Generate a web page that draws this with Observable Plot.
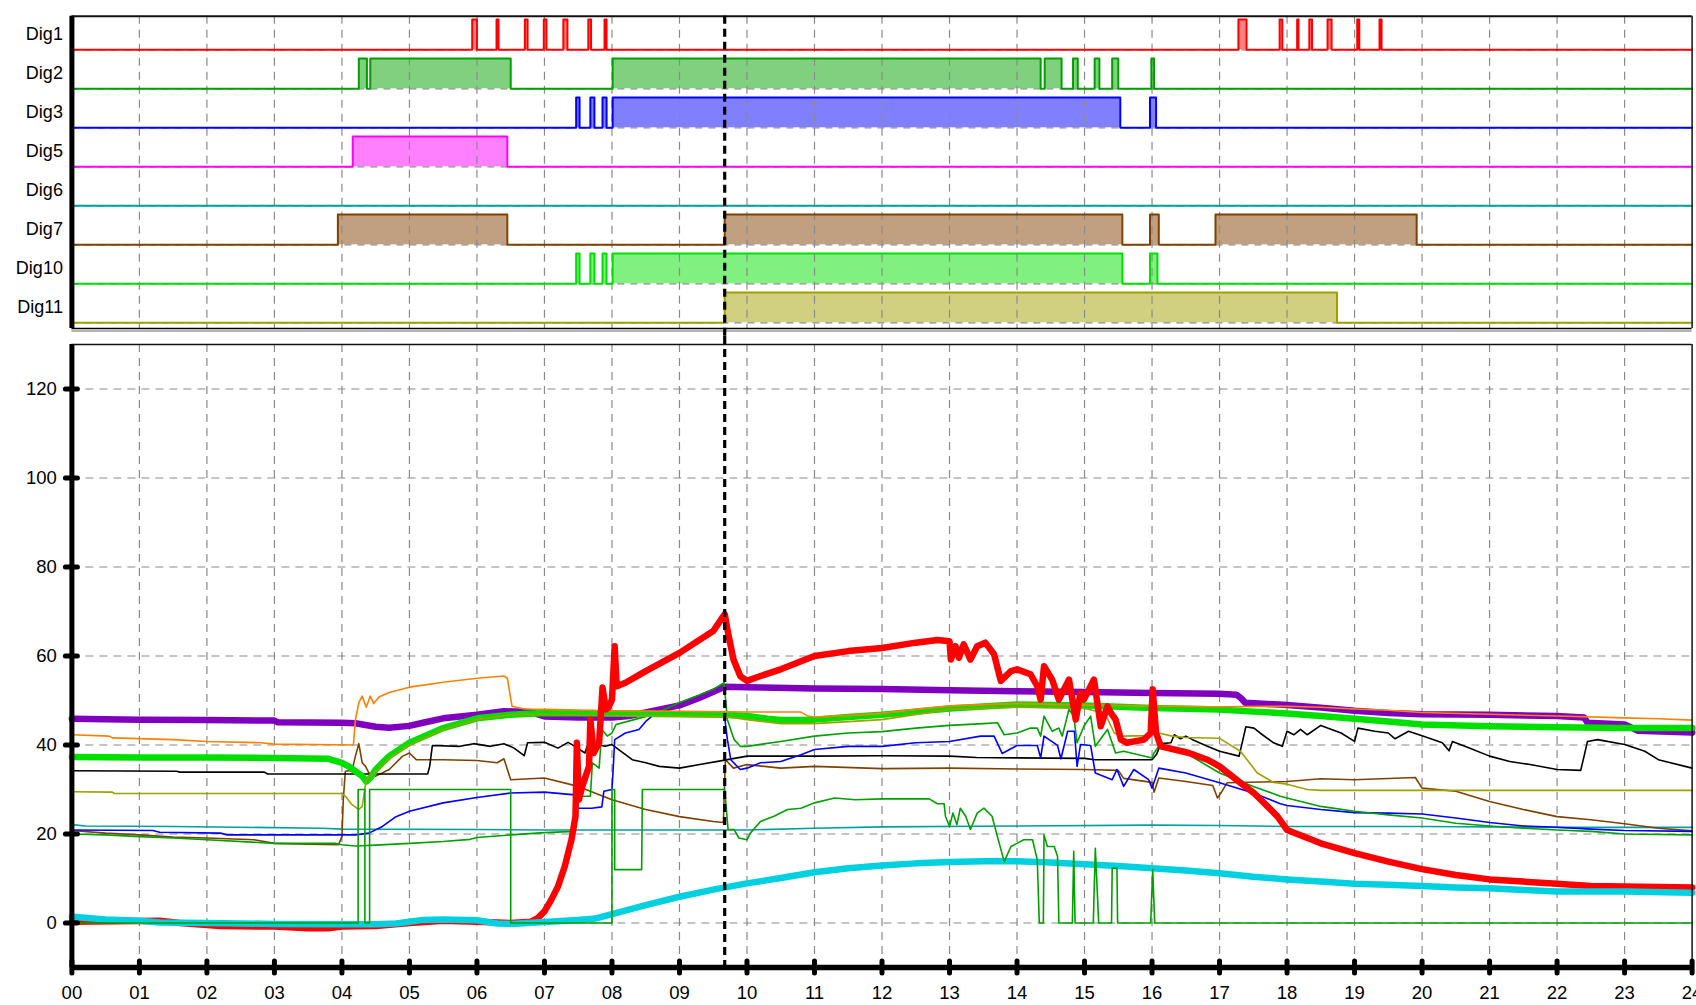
<!DOCTYPE html>
<html><head><meta charset="utf-8">
<script src="https://cdn.jsdelivr.net/npm/d3@7"></script>
<script src="https://cdn.jsdelivr.net/npm/@observablehq/plot@0.6"></script>
<style>
html,body{margin:0;padding:0;background:#fff;}
#chart{width:1696px;height:1005px;position:relative;overflow:hidden;}
#chart svg{display:block;}
</style></head><body><div id="chart"></div>
<script>
// ---------- tick labels ----------
const hourTicks = [0,1,2,3,4,5,6,7,8,9,10,11,12,13,14,15,16,17,18,19,20,21,22,23,24];
const hourLabels = ["00","01","02","03","04","05","06","07","08","09","10","11","12","13","14","15","16","17","18","19","20","21","22","23","24"];
const gridHours = [1,2,3,4,5,6,7,8,9,10,11,12,13,14,15,16,17,18,19,20,21,22,23];
const yTicks = [0,20,40,60,80,100,120];
const cursorHour = [9.67];

// ---------- digital channels: [on, off] in hours ----------
const digNames = ["Dig1","Dig2","Dig3","Dig5","Dig6","Dig7","Dig10","Dig11"];
const dig1 = [[5.93,6.0],[6.29,6.32],[6.71,6.75],[6.99,7.03],[7.28,7.34],[7.65,7.69],[7.89,7.92],[17.28,17.4],[17.89,17.93],[18.15,18.17],[18.33,18.37],[18.6,18.66],[19.04,19.07],[19.37,19.4]];
const dig2 = [[4.25,4.37],[4.42,6.5],[8.01,14.35],[14.41,14.66],[14.83,14.9],[15.15,15.22],[15.41,15.5],[15.99,16.03]];
const dig3 = [[7.47,7.52],[7.68,7.74],[7.86,7.92],[8.01,15.53],[15.97,16.06]];
const dig5 = [[4.16,6.45]];
const dig6 = [];
const dig7 = [[3.94,6.45],[9.67,15.56],[15.97,16.1],[16.94,19.92]];
const dig10 = [[7.47,7.52],[7.68,7.74],[7.86,7.92],[8.01,15.56],[15.97,16.08]];
const dig11 = [[9.67,18.74]];
const digData = [dig1,dig2,dig3,dig5,dig6,dig7,dig10,dig11];
const digLine = ["#ff0000","#00a000","#0000ff","#ff00ff","#00a0a0","#804000","#00e000","#a0a000"];
const digFill = ["#ff8080","#80d080","#8080ff","#ff80ff","#80d0d0","#c0a080","#80f080","#d0d080"];

// ---------- analog series: [hour, value] ----------
const purple = [[0,45.9],[1,45.7],[2,45.6],[3,45.5],[3.05,45.1],[4,45.0],[4.2,44.9],[4.35,44.5],[4.5,44.1],[4.7,43.9],[5.0,44.3],[5.2,45.0],[5.5,46.0],[6.0,46.8],[6.4,47.6],[6.8,47.4],[7.0,46.4],[7.5,46.2],[8.0,46.2],[8.25,46.5],[8.5,47.3],[9.0,48.9],[9.3,50.6],[9.67,53.1],[10,53.0],[11,52.7],[12,52.6],[13,52.3],[14,52.1],[15,51.9],[16,51.7],[17,51.5],[17.25,51.3],[17.32,50.5],[17.38,49.5],[18,49.0],[18.5,48.4],[19,47.7],[19.5,47.2],[20,46.9],[21,46.8],[22,46.5],[22.4,46.2],[22.45,45.0],[23.0,44.6],[23.2,43.2],[24,42.8]];
const orange = [[0,42.3],[0.55,42.0],[0.6,41.6],[1.5,41.2],[2.0,40.8],[2.8,40.5],[3.0,40.2],[4.17,40.0],[4.2,45.7],[4.25,49.5],[4.3,51.0],[4.36,48.5],[4.42,51.0],[4.47,49.3],[4.55,50.8],[4.7,51.8],[5.0,53.0],[5.5,54.1],[6.0,55.0],[6.4,55.5],[6.45,55.0],[6.52,48.7],[6.7,48.1],[7,48.0],[8,47.7],[9,47.6],[10,47.4],[10.8,47.4],[10.9,46.5],[11,46.3],[11.5,46.6],[12,47.1],[12.5,48.0],[13,48.8],[14,49.3],[15,49.0],[16,48.7],[17,48.6],[18,48.7],[18.5,48.5],[19,48.1],[19.5,47.8],[20,47.3],[21,46.9],[22,46.5],[23,46.1],[23.5,45.9],[24,45.6]];
const brightGreen = [[0,37.3],[1,37.2],[2,37.2],[3,37.1],[3.8,36.9],[4.0,36.0],[4.1,35.2],[4.2,34.1],[4.3,33.0],[4.36,31.8],[4.42,32.6],[4.5,34.5],[4.7,37.5],[5.0,40.5],[5.5,43.8],[6.0,46.0],[6.5,46.8],[7,47.2],[8,47.1],[9,46.9],[9.67,46.8],[10,46.5],[10.3,45.9],[10.5,45.6],[11,45.7],[11.5,46.3],[12,46.8],[13,48.2],[14,49.1],[15,48.9],[16,48.3],[17,48.0],[17.5,47.5],[18,47.1],[18.5,46.5],[19,45.9],[19.5,45.3],[20,44.6],[21,44.2],[22,44.0],[23,43.8],[24,43.8]];
const olive = [[0,29.5],[0.6,29.4],[0.63,29.1],[4.0,29.1],[4.05,28.5],[4.15,26.6],[4.25,25.5],[4.3,26.2],[4.36,32.2],[4.5,34.0],[4.7,37.0],[5.0,40.0],[5.5,43.5],[6.0,45.7],[6.5,46.8],[7,46.9],[8,46.6],[9,46.5],[9.67,46.4],[10,45.7],[10.5,44.8],[11,44.8],[12,45.7],[13,48.0],[14,48.5],[15,48.2],[15.3,47.2],[15.44,42.7],[15.54,42.0],[15.98,42.1],[16.03,44.2],[16.1,42.7],[16.3,42.0],[16.5,41.7],[17.0,41.5],[17.31,38.6],[17.56,33.7],[17.8,31.6],[18,31.2],[18.3,30.0],[18.5,29.8],[20,29.8],[22,29.8],[24,29.8]];
const black = [[0,34.2],[1.55,34.1],[1.6,33.9],[2.85,33.9],[2.9,33.5],[5.27,33.5],[5.3,35.2],[5.34,39.9],[5.75,39.7],[5.95,40.3],[6.2,39.7],[6.4,40.3],[6.55,39.3],[6.7,37.6],[6.75,40.5],[7.0,40.6],[7.2,39.3],[7.35,40.6],[7.45,39.7],[7.6,38.2],[7.65,40.5],[7.9,39.7],[8.0,40.1],[8.3,36.7],[8.5,36.0],[8.7,35.2],[9.0,34.8],[9.3,35.6],[9.67,36.6],[10.0,37.5],[11,37.5],[12,37.6],[13,37.5],[13.4,37.2],[14,37.1],[15,37.0],[15.15,36.7],[16.0,36.7],[16.07,38.0],[16.13,40.3],[16.28,40.5],[16.33,42.3],[16.42,41.4],[16.5,42.0],[16.6,41.2],[16.82,39.7],[17.0,38.6],[17.29,37.5],[17.39,44.1],[17.51,43.8],[17.6,42.7],[17.8,40.5],[17.93,39.7],[18.0,43.1],[18.1,42.3],[18.2,43.5],[18.3,42.3],[18.5,44.4],[18.6,43.8],[18.8,42.7],[19.0,40.8],[19.05,43.8],[19.3,43.1],[19.5,42.7],[19.6,41.4],[19.8,43.1],[20.0,42.1],[20.3,40.5],[20.4,38.7],[20.45,40.8],[20.7,39.3],[21.0,37.5],[21.3,36.3],[21.6,35.6],[22.0,34.5],[22.35,34.3],[22.4,37.5],[22.45,40.8],[22.6,41.2],[23.0,40.1],[23.3,38.6],[23.5,36.7],[24,34.8]];
const brown = [[0,20.8],[0.5,20.2],[1.0,19.8],[1.5,19.3],[2.0,19.1],[2.7,18.7],[3.0,17.9],[3.5,17.7],[3.95,17.6],[4.0,19.4],[4.02,27.7],[4.05,34.1],[4.15,34.3],[4.2,37.5],[4.25,40.3],[4.3,36.0],[4.35,35.2],[4.4,33.7],[4.5,33.0],[4.7,34.5],[4.9,37.5],[5.0,38.2],[5.1,36.7],[5.5,36.7],[6.0,36.5],[6.3,36.0],[6.4,36.9],[6.5,32.2],[7.0,32.6],[7.5,30.7],[8.0,27.7],[8.5,25.5],[9.0,23.9],[9.5,22.8],[9.65,22.6],[9.68,36.7],[9.8,34.8],[10,35.6],[10.5,34.8],[11,35.2],[12,34.7],[13,34.8],[14,34.6],[15,34.5],[15.5,34.3],[15.58,32.5],[16,31.6],[16.03,29.4],[16.1,32.6],[16.5,31.8],[16.9,30.9],[16.97,28.1],[17.02,29.2],[17.11,31.5],[18,31.8],[18.5,32.4],[19,32.2],[19.9,32.7],[20.0,30.3],[20.5,29.6],[21,27.3],[21.5,25.5],[22,23.9],[22.5,23.2],[23,22.3],[23.5,21.3],[24,20.7]];
const blue = [[0,20.9],[1.2,20.8],[1.3,20.4],[2.2,20.2],[2.3,19.8],[4.2,19.8],[4.4,20.2],[4.6,21.7],[4.8,23.9],[5.0,25.1],[5.5,27.0],[6.0,28.2],[6.5,29.2],[7,29.4],[7.45,28.8],[7.5,25.8],[7.7,25.8],[7.85,26.1],[7.88,29.6],[8.0,30.0],[8.02,35.2],[8.04,41.2],[8.2,42.7],[8.4,43.5],[8.5,45.3],[8.62,46.8],[9.0,47.2],[9.66,47.3],[9.71,41.2],[9.76,36.7],[9.9,34.5],[10.0,34.8],[10.2,36.0],[10.5,36.3],[10.8,37.8],[11,39.0],[11.5,39.7],[12,39.7],[12.5,40.5],[13,40.8],[13.46,42.0],[13.66,42.0],[13.78,38.1],[14,39.9],[14.3,39.9],[14.35,37.1],[14.4,42.0],[14.6,39.9],[14.65,36.9],[14.75,43.1],[14.85,43.1],[14.89,35.2],[14.94,40.1],[15.09,39.9],[15.16,33.7],[15.41,32.2],[15.48,34.5],[15.58,30.7],[15.73,34.5],[15.95,32.2],[16.0,30.3],[16.1,34.8],[16.5,33.7],[17,31.5],[17.5,29.2],[17.9,26.8],[18,26.4],[18.5,25.5],[19,24.8],[19.5,24.7],[20,24.5],[20.5,23.6],[21,22.6],[21.5,21.8],[22,21.5],[22.5,21.1],[23,20.8],[24,20.6]];
const greenA = [[0,20.0],[0.5,19.8],[1,19.4],[1.5,19.1],[2,18.7],[3,17.9],[3.9,17.9],[4.0,17.6],[4.2,17.3],[4.5,17.5],[5.0,17.9],[5.5,18.3],[5.9,18.8],[6.0,19.2],[6.5,19.8],[7,20.3],[7.44,20.6],[7.46,27.7],[7.5,28.5],[7.68,28.5],[7.71,36.0],[7.81,34.8],[7.85,43.5],[7.93,42.0],[8.0,42.7],[8.06,44.6],[8.33,45.7],[8.6,46.8],[9.0,49.5],[9.5,52.5],[9.66,54.0],[9.71,45.7],[9.81,41.2],[9.9,39.7],[10,39.7],[10.5,40.8],[11,42.0],[11.5,42.7],[12,43.0],[12.5,43.8],[13,44.4],[13.5,44.8],[13.71,45.0],[13.81,42.3],[14,42.7],[14.2,43.8],[14.3,43.8],[14.35,42.0],[14.4,46.5],[14.52,43.1],[14.62,43.8],[14.67,42.0],[14.77,48.0],[14.84,46.5],[14.89,40.5],[14.99,44.2],[15.09,46.5],[15.16,39.7],[15.34,43.5],[15.46,38.2],[15.58,38.6],[16,37.1],[16.03,38.2],[16.1,39.7],[16.5,38.2],[17,33.7],[17.5,30.7],[17.9,28.5],[18,28.1],[18.5,26.2],[19,25.1],[19.5,24.3],[20,23.6],[20.5,22.4],[21,21.8],[21.5,21.3],[22,20.9],[22.5,20.6],[23,20.0],[24,19.8]];
const greenB = [[0,0],[4.24,0],[4.24,30],[4.34,30],[4.34,0],[4.41,0],[4.41,30],[6.5,30],[6.5,0],[8.0,0],[8.0,30],[8.04,30],[8.04,12],[8.44,12],[8.45,30],[9.67,30],[9.72,21],[9.81,21],[9.88,19.1],[10.0,18.7],[10.05,20.2],[10.2,22.8],[10.4,24.0],[10.6,25.5],[10.8,25.8],[11,27.0],[11.3,28.1],[11.6,27.7],[12,27.9],[12.7,27.9],[12.82,26.8],[12.92,26.8],[12.94,24.0],[13.0,21.7],[13.05,24.7],[13.11,22.1],[13.16,25.8],[13.24,24.0],[13.31,21.0],[13.41,24.7],[13.51,25.8],[13.63,24.0],[13.71,19.4],[13.81,13.8],[13.91,17.2],[14.0,17.9],[14.1,18.7],[14.23,18.7],[14.3,14.2],[14.33,0],[14.39,0],[14.4,19.8],[14.45,17.2],[14.55,17.2],[14.6,15.0],[14.62,0],[14.82,0],[14.84,16.1],[14.86,0],[15.13,0],[15.16,16.8],[15.21,0],[15.4,0],[15.41,12.3],[15.48,12.3],[15.49,0],[15.98,0],[16.01,12.0],[16.04,0],[24,0]];
const teal = [[0,22.1],[0.2,21.8],[1.5,21.7],[3.7,21.3],[4.0,21.1],[6,21.0],[7,20.9],[8,20.9],[9,20.9],[10,20.9],[11,21.3],[12,21.6],[14,21.8],[16,22.0],[17,21.9],[18,21.7],[20,21.7],[22,21.5],[24,21.5]];
const cyan = [[0,1.4],[0.5,0.8],[1.0,0.5],[1.3,0.1],[2.0,0],[3.0,-0.2],[4.0,-0.3],[4.5,-0.3],[4.8,-0.1],[5.0,0.3],[5.2,0.7],[5.5,0.8],[6.0,0.6],[6.3,-0.1],[6.5,-0.2],[7,0.2],[7.5,0.7],[7.75,1.0],[8.0,2.0],[8.5,4.0],[9.0,5.9],[9.5,7.5],[10,8.9],[10.5,10.1],[11,11.4],[11.5,12.3],[12,12.9],[12.5,13.4],[13,13.7],[13.5,13.9],[14,13.9],[14.5,13.6],[15,13.2],[15.5,12.8],[16,12.3],[16.5,11.8],[17,11.2],[17.5,10.4],[18,9.8],[18.5,9.3],[19,8.8],[19.5,8.6],[20,8.3],[20.5,8.0],[21,7.8],[21.5,7.4],[22,7.1],[23,7.1],[24,6.8]];
const red = [[0,0.3],[1.3,0.5],[1.6,0],[2.2,-0.7],[3.0,-0.8],[3.5,-1.2],[3.8,-1.2],[4.0,-0.8],[4.5,-0.7],[5.0,0],[5.5,0.5],[6.0,0.3],[6.5,0],[6.8,0.3],[6.9,1.1],[7.0,2.6],[7.1,5.2],[7.2,8.2],[7.3,12.7],[7.4,18.7],[7.46,24.0],[7.48,40.5],[7.51,27.7],[7.56,30.7],[7.66,35.2],[7.68,45.7],[7.73,38.2],[7.81,40.5],[7.86,52.9],[7.91,48.0],[7.95,48.5],[8.0,50.2],[8.04,62.2],[8.07,53.2],[8.2,54.0],[8.5,56.6],[9.0,60.7],[9.5,65.6],[9.67,69.4],[9.72,65.2],[9.8,59.2],[9.9,55.5],[10.0,54.4],[10.2,55.5],[10.5,57.0],[11,60.0],[11.5,61.1],[12,61.8],[12.5,63.0],[12.82,63.6],[13.0,63.3],[13.02,59.2],[13.09,62.2],[13.14,59.6],[13.21,62.6],[13.31,59.2],[13.41,62.2],[13.53,63.0],[13.66,60.4],[13.76,54.4],[13.91,56.6],[14.0,57.0],[14.2,55.9],[14.3,53.2],[14.35,50.2],[14.4,57.7],[14.52,54.7],[14.62,50.2],[14.72,53.2],[14.77,54.7],[14.87,45.7],[14.94,51.7],[14.99,50.2],[15.14,54.7],[15.24,44.2],[15.34,48.7],[15.39,47.2],[15.46,45.7],[15.54,41.2],[15.63,40.5],[15.88,41.2],[15.98,42.7],[16.01,52.5],[16.06,42.7],[16.13,39.7],[16.55,38.2],[16.82,36.7],[17.0,35.2],[17.31,31.5],[17.51,29.2],[17.71,26.2],[17.86,23.9],[18,20.9],[18.5,17.9],[19,15.7],[19.5,13.8],[20,12.1],[20.5,10.8],[21,9.8],[21.5,9.3],[22,8.8],[22.5,8.3],[23,8.2],[24,8.0]];

// ---------- styling / layout ----------
const FONT = "'Liberation Sans', Arial, sans-serif";
const W = 1696, ML = 71.4, MR = 4.4;
const GRID = {stroke: "#8a8a8a", strokeWidth: 1.2, strokeDasharray: "8,6"};
const PULSE = 0.777;      // pulse height in row units
const THICK = 6.5, THIN = 1.6;
const seriesStyle = [
  [teal, "#00a0a0", THIN], [brown, "#804000", THIN], [black, "#000000", THIN], [blue, "#0000ff", THIN],
  [purple, "#8000c0", THICK], [greenA, "#00a000", THIN], [brightGreen, "#00e000", THICK], [olive, "#a0a000", THIN],
  [orange, "#ff8000", THIN], [red, "#ff0000", THICK], [cyan, "#00d0e0", THICK], [greenB, "#00a000", THIN]
];

// step outline of a digital channel (exact on/off edges)
function stepPoints(iv) {
  const pts = [[0, 0]];
  for (const [a, b] of iv) pts.push([a, 0], [a, 1], [b, 1], [b, 0]);
  pts.push([24, 0]);
  return pts;
}

// ---------- top panel ----------
const topMarks = [];
digData.forEach((iv, i) => {
  topMarks.push(Plot.rect(iv, {x1: d => d[0], x2: d => d[1], y1: () => -i, y2: () => -i + PULSE, fill: digFill[i]}));
});
topMarks.push(Plot.ruleX(gridHours, GRID));
topMarks.push(Plot.ruleY(digNames.map((d, i) => -i), {...GRID, strokeDasharray: "7,6"}));
digData.forEach((iv, i) => {
  topMarks.push(Plot.line(stepPoints(iv), {x: d => d[0], y: d => -i + d[1] * PULSE, stroke: digLine[i], strokeWidth: 2}));
});
topMarks.push(
  Plot.ruleY([-7.146], {stroke: "#999", strokeWidth: 1.5, dy: 2.5}),
  Plot.ruleY([-7.146], {stroke: "#000", strokeWidth: 1.5}),
  Plot.ruleY([0.8615], {stroke: "#111", strokeWidth: 2}),
  Plot.ruleX([24], {stroke: "#111", strokeWidth: 1.5}),
  Plot.ruleX([0], {stroke: "#000", strokeWidth: 5}),
  Plot.ruleX(cursorHour, {stroke: "#000", strokeWidth: 3.2, strokeDasharray: "8,5", insetBottom: -8}),
  Plot.text(digNames, {x: () => 0, y: (d, i) => -i + 0.4, text: d => d, textAnchor: "end", dx: -9, fontSize: 18, fill: "#000"})
);
const topPlot = Plot.plot({
  width: W, height: 336, marginLeft: ML, marginRight: MR, marginTop: 15.7, marginBottom: 8,
  x: {domain: [0, 24], axis: null},
  y: {domain: [-7.146, 0.8615], axis: null},
  style: {fontFamily: FONT, background: "white", overflow: "visible"},
  marks: topMarks
});

// ---------- bottom panel ----------
const botMarks = [
  Plot.ruleX(gridHours, GRID),
  Plot.ruleY(yTicks, GRID),
  ...seriesStyle.map(([data, color, w]) => Plot.line(data, {x: d => d[0], y: d => d[1], stroke: color, strokeWidth: w, strokeLinejoin: "round", strokeLinecap: "round"})),
  Plot.ruleX(cursorHour, {stroke: "#000", strokeWidth: 3.2, strokeDasharray: "8,5", insetTop: -8}),
  Plot.ruleY([130], {stroke: "#111", strokeWidth: 1.5}),
  Plot.ruleX([24], {stroke: "#111", strokeWidth: 1.5}),
  Plot.ruleX([0], {stroke: "#000", strokeWidth: 5}),
  Plot.ruleY([-10], {stroke: "#000", strokeWidth: 5.5}),
  Plot.axisY(yTicks, {tickSize: 12, dx: 6, tickFormat: () => "", strokeWidth: 5, strokeLinecap: "round", label: null}),
  Plot.axisY(yTicks, {tickSize: 0, tickPadding: 15, fontSize: 18.5, label: null}),
  Plot.axisX(hourTicks, {tickSize: 12, dy: -6, tickFormat: () => "", strokeWidth: 5, strokeLinecap: "round", label: null}),
  Plot.axisX(hourTicks, {tickSize: 0, tickPadding: 18, fontSize: 18.5, tickFormat: d => hourLabels[d], label: null})
];
const bottomPlot = Plot.plot({
  width: W, height: 669, marginLeft: ML, marginRight: MR, marginTop: 8, marginBottom: 38,
  x: {domain: [0, 24]},
  y: {domain: [-10, 130]},
  style: {fontFamily: FONT, background: "white", overflow: "visible", color: "#000"},
  marks: botMarks
});

const root = document.getElementById("chart");
root.append(topPlot, bottomPlot);
</script></body></html>
